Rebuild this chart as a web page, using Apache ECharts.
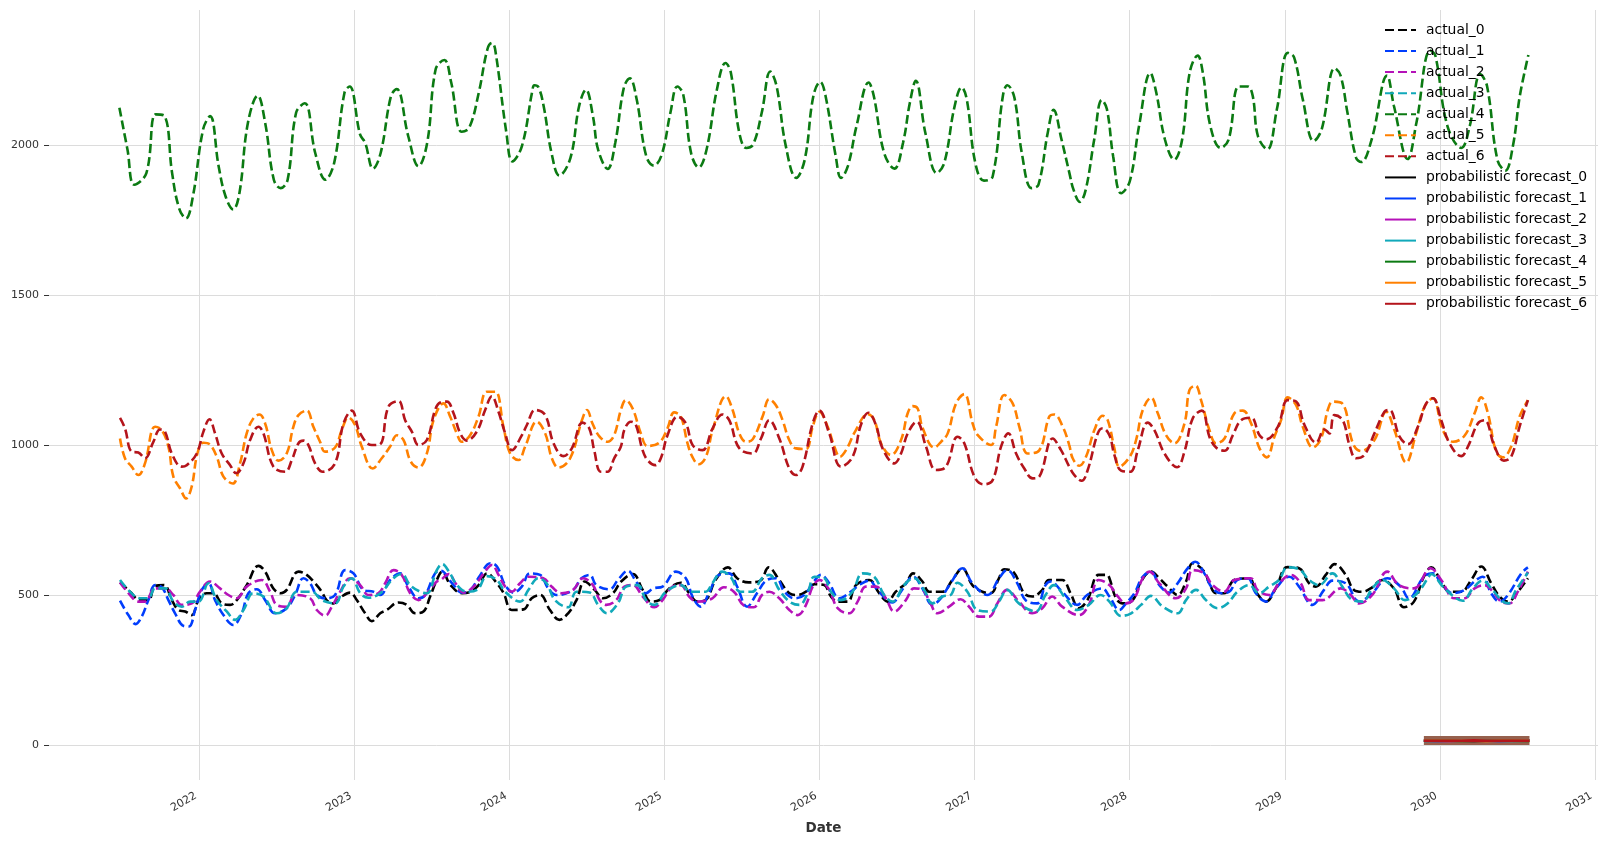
<![CDATA[<!DOCTYPE html>
<html>
<head>
<meta charset="utf-8">
<title>Forecast</title>
<script src="https://cdn.jsdelivr.net/npm/echarts@6/dist/echarts.min.js"></script>
<style>
  html, body { margin: 0; padding: 0; background: #fff; }
  #chart { width: 1609px; height: 845px; }
</style>
</head>
<body>
<div id="chart"></div>
<script>
// [decimal year, value] read off the picture
const actual0 = [[2021.488,543],[2021.553,512],[2021.617,484],[2021.671,484],[2021.714,531],[2021.772,534],[2021.822,484],[2021.865,451],[2021.908,446],[2021.951,434],[2021.994,484],[2022.047,507],[2022.09,507],[2022.144,473],[2022.198,468],[2022.241,484],[2022.305,534],[2022.381,598],[2022.424,579],[2022.477,523],[2022.525,507],[2022.563,518],[2022.639,579],[2022.692,568],[2022.746,540],[2022.789,512],[2022.82,484],[2022.865,473],[2022.918,496],[2022.972,509],[2023.015,484],[2023.069,440],[2023.112,414],[2023.166,440],[2023.208,451],[2023.284,476],[2023.338,468],[2023.391,440],[2023.445,446],[2023.488,496],[2023.531,551],[2023.566,579],[2023.62,534],[2023.694,507],[2023.748,512],[2023.801,534],[2023.855,573],[2023.919,540],[2023.962,507],[2024.015,451],[2024.09,453],[2024.143,490],[2024.197,501],[2024.261,451],[2024.321,418],[2024.378,440],[2024.432,484],[2024.485,546],[2024.549,518],[2024.603,490],[2024.667,507],[2024.72,546],[2024.795,571],[2024.859,518],[2024.912,479],[2024.966,484],[2025.03,523],[2025.105,542],[2025.158,507],[2025.212,479],[2025.265,484],[2025.329,551],[2025.408,593],[2025.468,557],[2025.543,543],[2025.618,549],[2025.671,593],[2025.74,551],[2025.805,507],[2025.858,501],[2025.912,512],[2025.966,537],[2026.03,534],[2026.073,496],[2026.116,479],[2026.18,479],[2026.234,534],[2026.32,551],[2026.384,507],[2026.438,479],[2026.491,512],[2026.556,540],[2026.603,573],[2026.663,546],[2026.706,512],[2026.792,512],[2026.856,551],[2026.921,590],[2026.985,534],[2027.049,512],[2027.103,507],[2027.157,557],[2027.189,587],[2027.253,576],[2027.318,507],[2027.372,496],[2027.436,518],[2027.479,551],[2027.564,551],[2027.618,507],[2027.672,457],[2027.727,484],[2027.8,568],[2027.854,568],[2027.869,557],[2027.912,490],[2027.955,473],[2028.019,484],[2028.073,546],[2028.137,579],[2028.191,557],[2028.245,529],[2028.309,501],[2028.363,546],[2028.406,607],[2028.481,579],[2028.513,540],[2028.556,507],[2028.609,507],[2028.674,551],[2028.77,557],[2028.813,512],[2028.878,479],[2028.942,523],[2029.017,594],[2029.092,590],[2029.157,540],[2029.2,529],[2029.264,568],[2029.322,604],[2029.393,568],[2029.446,518],[2029.5,512],[2029.554,523],[2029.629,551],[2029.704,523],[2029.768,460],[2029.833,479],[2029.897,562],[2029.944,593],[2030.009,546],[2030.062,512],[2030.138,512],[2030.202,551],[2030.267,596],[2030.331,540],[2030.385,496],[2030.439,479],[2030.503,512],[2030.568,557]];

const actual1 = [[2021.488,482],[2021.542,434],[2021.589,404],[2021.628,429],[2021.671,484],[2021.714,534],[2021.757,527],[2021.8,484],[2021.843,440],[2021.897,398],[2021.933,396],[2021.972,451],[2022.015,518],[2022.058,540],[2022.101,484],[2022.155,434],[2022.219,401],[2022.273,440],[2022.316,507],[2022.37,520],[2022.424,484],[2022.488,440],[2022.563,457],[2022.617,501],[2022.671,557],[2022.714,540],[2022.757,501],[2022.811,490],[2022.875,501],[2022.94,584],[2022.994,573],[2023.058,518],[2023.123,512],[2023.166,501],[2023.23,551],[2023.295,573],[2023.348,529],[2023.413,490],[2023.456,501],[2023.52,573],[2023.556,582],[2023.63,540],[2023.694,509],[2023.748,518],[2023.812,568],[2023.876,607],[2023.919,596],[2023.972,534],[2024.026,509],[2024.079,529],[2024.132,573],[2024.197,568],[2024.25,523],[2024.303,501],[2024.41,518],[2024.464,557],[2024.517,568],[2024.56,534],[2024.645,520],[2024.699,551],[2024.763,582],[2024.816,546],[2024.88,507],[2024.927,523],[2024.987,529],[2025.073,579],[2025.137,557],[2025.18,496],[2025.233,462],[2025.286,507],[2025.35,568],[2025.415,573],[2025.468,529],[2025.532,462],[2025.596,507],[2025.66,551],[2025.719,557],[2025.773,512],[2025.837,490],[2025.901,501],[2025.955,540],[2026.009,568],[2026.062,540],[2026.127,490],[2026.202,512],[2026.255,534],[2026.32,549],[2026.373,518],[2026.47,476],[2026.524,512],[2026.603,562],[2026.663,523],[2026.727,468],[2026.781,490],[2026.845,540],[2026.921,590],[2026.985,540],[2027.082,501],[2027.157,557],[2027.21,584],[2027.275,540],[2027.328,484],[2027.403,473],[2027.457,534],[2027.489,546],[2027.564,512],[2027.661,468],[2027.725,501],[2027.822,523],[2027.869,496],[2027.933,451],[2027.976,473],[2028.03,507],[2028.084,562],[2028.137,579],[2028.191,534],[2028.255,509],[2028.309,540],[2028.373,590],[2028.423,612],[2028.481,573],[2028.534,523],[2028.593,507],[2028.642,512],[2028.695,551],[2028.76,557],[2028.813,507],[2028.878,479],[2028.942,523],[2029.028,562],[2029.092,529],[2029.178,468],[2029.253,518],[2029.307,549],[2029.393,540],[2029.479,479],[2029.564,507],[2029.661,557],[2029.747,529],[2029.8,490],[2029.897,562],[2029.955,573],[2030.009,540],[2030.084,507],[2030.159,518],[2030.234,551],[2030.277,562],[2030.331,507],[2030.385,479],[2030.439,501],[2030.525,573],[2030.568,593]];

const actual2 = [[2021.488,543],[2021.553,501],[2021.606,479],[2021.649,479],[2021.714,523],[2021.778,523],[2021.832,501],[2021.886,468],[2021.951,473],[2022.004,512],[2022.069,546],[2022.133,523],[2022.187,501],[2022.241,490],[2022.305,529],[2022.402,551],[2022.456,512],[2022.499,468],[2022.563,462],[2022.617,501],[2022.714,490],[2022.757,451],[2022.811,432],[2022.854,462],[2022.908,512],[2022.972,557],[2023.037,534],[2023.09,501],[2023.155,507],[2023.198,540],[2023.252,584],[2023.305,568],[2023.359,507],[2023.413,484],[2023.467,507],[2023.531,546],[2023.556,551],[2023.609,571],[2023.652,540],[2023.705,509],[2023.769,529],[2023.833,573],[2023.887,601],[2023.929,568],[2023.972,529],[2024.015,512],[2024.068,540],[2024.122,562],[2024.218,557],[2024.271,529],[2024.335,507],[2024.41,518],[2024.474,557],[2024.538,534],[2024.581,484],[2024.624,468],[2024.688,484],[2024.741,529],[2024.795,534],[2024.859,496],[2024.934,460],[2024.987,484],[2025.051,529],[2025.105,534],[2025.158,496],[2025.212,479],[2025.308,490],[2025.382,527],[2025.447,512],[2025.511,466],[2025.575,460],[2025.628,501],[2025.676,512],[2025.74,490],[2025.805,451],[2025.858,434],[2025.912,468],[2025.955,529],[2025.998,551],[2026.062,518],[2026.116,457],[2026.191,440],[2026.245,479],[2026.298,529],[2026.363,529],[2026.427,490],[2026.481,446],[2026.556,484],[2026.609,523],[2026.663,518],[2026.706,484],[2026.76,440],[2026.835,462],[2026.91,487],[2026.964,462],[2027.028,429],[2027.092,429],[2027.146,473],[2027.21,518],[2027.285,479],[2027.371,440],[2027.436,457],[2027.5,496],[2027.564,462],[2027.672,434],[2027.736,468],[2027.8,551],[2027.869,534],[2027.923,496],[2027.976,473],[2028.03,490],[2028.084,557],[2028.127,579],[2028.191,540],[2028.298,490],[2028.363,523],[2028.406,584],[2028.481,573],[2028.534,534],[2028.609,512],[2028.674,551],[2028.781,557],[2028.824,518],[2028.899,501],[2028.963,540],[2029.039,568],[2029.103,540],[2029.157,484],[2029.243,484],[2029.361,523],[2029.425,501],[2029.479,473],[2029.564,501],[2029.661,579],[2029.736,534],[2029.833,523],[2029.94,590],[2030.009,551],[2030.095,490],[2030.159,490],[2030.224,523],[2030.288,534],[2030.342,512],[2030.396,479],[2030.449,473],[2030.503,512],[2030.568,579]];

const actual3 = [[2021.488,551],[2021.553,512],[2021.617,490],[2021.671,490],[2021.714,523],[2021.778,523],[2021.832,479],[2021.886,462],[2021.94,479],[2021.994,479],[2022.058,540],[2022.112,484],[2022.176,446],[2022.23,418],[2022.284,451],[2022.348,507],[2022.413,496],[2022.499,440],[2022.563,457],[2022.628,512],[2022.725,512],[2022.789,484],[2022.875,473],[2022.929,529],[2022.983,557],[2023.037,507],[2023.09,492],[2023.166,507],[2023.252,557],[2023.305,571],[2023.359,534],[2023.424,512],[2023.467,507],[2023.531,584],[2023.566,604],[2023.609,579],[2023.662,534],[2023.726,512],[2023.791,518],[2023.855,564],[2023.919,551],[2023.972,512],[2024.068,479],[2024.122,518],[2024.186,557],[2024.239,540],[2024.293,484],[2024.378,460],[2024.432,512],[2024.517,509],[2024.571,468],[2024.628,440],[2024.699,473],[2024.752,529],[2024.827,534],[2024.88,484],[2024.934,468],[2025.009,512],[2025.105,534],[2025.169,512],[2025.265,512],[2025.308,540],[2025.372,579],[2025.425,562],[2025.489,512],[2025.564,512],[2025.628,557],[2025.676,568],[2025.74,518],[2025.805,479],[2025.869,468],[2025.923,507],[2025.966,562],[2026.03,557],[2026.073,512],[2026.137,484],[2026.212,512],[2026.277,573],[2026.352,562],[2026.416,501],[2026.47,479],[2026.545,534],[2026.609,557],[2026.674,518],[2026.727,473],[2026.792,496],[2026.845,501],[2026.888,542],[2026.953,512],[2027.017,451],[2027.103,446],[2027.157,479],[2027.21,518],[2027.285,473],[2027.393,446],[2027.457,501],[2027.511,534],[2027.586,490],[2027.661,451],[2027.736,468],[2027.811,501],[2027.869,479],[2027.944,431],[2028.009,440],[2028.073,468],[2028.137,498],[2028.213,462],[2028.309,440],[2028.363,484],[2028.427,518],[2028.491,484],[2028.566,457],[2028.631,473],[2028.695,512],[2028.77,534],[2028.835,507],[2028.899,529],[2028.963,551],[2029.017,593],[2029.092,587],[2029.157,551],[2029.221,534],[2029.307,573],[2029.371,529],[2029.436,484],[2029.5,479],[2029.564,523],[2029.629,551],[2029.704,523],[2029.775,484],[2029.854,507],[2029.929,562],[2029.944,571],[2030.019,529],[2030.105,490],[2030.148,482],[2030.213,523],[2030.277,549],[2030.331,523],[2030.406,479],[2030.439,473],[2030.492,518],[2030.568,576]];

const actual4 = [[2021.484,2126],[2021.536,1987],[2021.58,1869],[2021.658,1908],[2021.718,2104],[2021.776,2098],[2021.824,1908],[2021.869,1791],[2021.913,1757],[2021.958,1830],[2022.024,2054],[2022.069,2098],[2022.124,1931],[2022.169,1830],[2022.218,1787],[2022.258,1841],[2022.313,2076],[2022.376,2166],[2022.424,2076],[2022.48,1886],[2022.524,1858],[2022.569,1886],[2022.624,2110],[2022.68,2141],[2022.747,1975],[2022.813,1886],[2022.869,1942],[2022.936,2177],[2022.969,2197],[2023.036,2037],[2023.069,2009],[2023.12,1923],[2023.169,1975],[2023.236,2166],[2023.273,2188],[2023.347,2031],[2023.413,1931],[2023.469,2009],[2023.524,2255],[2023.58,2285],[2023.624,2210],[2023.691,2046],[2023.74,2059],[2023.802,2177],[2023.858,2322],[2023.887,2342],[2023.907,2322],[2023.98,2042],[2024.018,1947],[2024.08,1998],[2024.147,2182],[2024.16,2201],[2024.187,2194],[2024.22,2132],[2024.271,1975],[2024.322,1900],[2024.393,1959],[2024.449,2132],[2024.493,2186],[2024.538,2098],[2024.571,1987],[2024.633,1922],[2024.682,2009],[2024.738,2194],[2024.776,2224],[2024.82,2154],[2024.882,1964],[2024.931,1933],[2024.982,1970],[2025.038,2110],[2025.082,2197],[2025.12,2171],[2025.171,1975],[2025.22,1927],[2025.271,1987],[2025.338,2188],[2025.393,2275],[2025.427,2244],[2025.482,2042],[2025.527,1992],[2025.571,2003],[2025.627,2110],[2025.682,2247],[2025.722,2199],[2025.782,1998],[2025.849,1892],[2025.904,1953],[2025.96,2166],[2026.004,2212],[2026.038,2166],[2026.104,1964],[2026.138,1892],[2026.182,1931],[2026.238,2065],[2026.316,2210],[2026.349,2166],[2026.416,1975],[2026.482,1923],[2026.538,2009],[2026.582,2143],[2026.62,2216],[2026.682,2042],[2026.756,1908],[2026.804,1942],[2026.871,2132],[2026.916,2194],[2026.949,2154],[2027.004,1942],[2027.06,1883],[2027.116,1897],[2027.182,2166],[2027.211,2201],[2027.256,2160],[2027.304,1975],[2027.367,1858],[2027.411,1869],[2027.471,2042],[2027.509,2119],[2027.56,2020],[2027.611,1908],[2027.638,1852],[2027.678,1812],[2027.716,1852],[2027.771,2020],[2027.82,2152],[2027.853,2121],[2027.893,1964],[2027.944,1841],[2028.0,1880],[2028.06,2065],[2028.133,2242],[2028.171,2177],[2028.227,2020],[2028.287,1953],[2028.338,2020],[2028.387,2244],[2028.438,2300],[2028.471,2244],[2028.52,2065],[2028.587,1992],[2028.638,2020],[2028.704,2197],[2028.76,2197],[2028.793,2166],[2028.827,2031],[2028.887,1987],[2028.949,2121],[2029.02,2309],[2029.06,2294],[2029.116,2154],[2029.187,2015],[2029.238,2054],[2029.322,2258],[2029.36,2233],[2029.404,2110],[2029.46,1959],[2029.493,1945],[2029.56,2020],[2029.66,2233],[2029.704,2132],[2029.793,1955],[2029.849,2076],[2029.938,2317],[2029.971,2300],[2030.049,2065],[2030.138,1992],[2030.193,2065],[2030.26,2238],[2030.304,2199],[2030.371,1953],[2030.422,1916],[2030.471,1998],[2030.516,2166],[2030.571,2302]];

const actual5 = [[2021.488,1023],[2021.52,957],[2021.563,929],[2021.606,901],[2021.649,940],[2021.714,1062],[2021.757,1051],[2021.8,996],[2021.832,896],[2021.875,857],[2021.914,823],[2021.95,862],[2021.987,973],[2022.026,1009],[2022.065,1004],[2022.112,962],[2022.155,896],[2022.215,873],[2022.262,940],[2022.305,1040],[2022.348,1090],[2022.387,1103],[2022.424,1073],[2022.467,984],[2022.51,949],[2022.563,973],[2022.606,1062],[2022.639,1101],[2022.692,1116],[2022.735,1062],[2022.778,1012],[2022.81,979],[2022.875,993],[2022.918,1051],[2022.961,1093],[2023.004,1068],[2023.047,996],[2023.118,923],[2023.176,957],[2023.23,996],[2023.273,1034],[2023.316,1018],[2023.363,946],[2023.413,926],[2023.467,973],[2023.51,1084],[2023.574,1140],[2023.617,1096],[2023.66,1040],[2023.692,1012],[2023.746,1034],[2023.8,1096],[2023.854,1179],[2023.908,1179],[2023.961,1062],[2024.004,973],[2024.058,951],[2024.101,996],[2024.176,1079],[2024.23,1040],[2024.273,957],[2024.316,926],[2024.391,957],[2024.467,1084],[2024.5,1118],[2024.535,1073],[2024.578,1031],[2024.632,1012],[2024.675,1034],[2024.718,1118],[2024.75,1151],[2024.794,1123],[2024.847,1040],[2024.89,998],[2024.966,1009],[2025.019,1057],[2025.062,1110],[2025.105,1096],[2025.148,1007],[2025.181,960],[2025.219,937],[2025.267,962],[2025.31,1051],[2025.396,1164],[2025.439,1118],[2025.482,1040],[2025.525,1012],[2025.568,1020],[2025.632,1096],[2025.675,1154],[2025.718,1134],[2025.761,1084],[2025.804,1018],[2025.847,990],[2025.912,988],[2025.955,1062],[2025.998,1112],[2026.052,1062],[2026.095,996],[2026.131,962],[2026.17,984],[2026.234,1051],[2026.31,1104],[2026.353,1084],[2026.396,1007],[2026.46,968],[2026.525,1018],[2026.568,1107],[2026.6,1131],[2026.632,1123],[2026.665,1057],[2026.74,993],[2026.783,1012],[2026.826,1040],[2026.88,1140],[2026.933,1171],[2026.987,1073],[2027.02,1034],[2027.105,1001],[2027.138,1062],[2027.191,1168],[2027.245,1140],[2027.288,1062],[2027.342,973],[2027.417,984],[2027.481,1096],[2027.514,1103],[2027.568,1062],[2027.61,1001],[2027.632,957],[2027.675,932],[2027.718,962],[2027.772,1051],[2027.826,1099],[2027.858,1084],[2027.901,990],[2027.933,929],[2028.0,962],[2028.041,1018],[2028.084,1118],[2028.138,1159],[2028.181,1107],[2028.234,1034],[2028.288,1007],[2028.353,1073],[2028.385,1184],[2028.424,1199],[2028.46,1151],[2028.514,1051],[2028.557,1007],[2028.611,1023],[2028.675,1107],[2028.729,1116],[2028.783,1073],[2028.837,990],[2028.884,960],[2028.933,1029],[2028.976,1084],[2029.019,1160],[2029.073,1134],[2029.116,1062],[2029.181,993],[2029.234,1023],[2029.277,1118],[2029.31,1146],[2029.374,1138],[2029.439,1007],[2029.492,981],[2029.578,1018],[2029.654,1112],[2029.707,1051],[2029.783,943],[2029.847,1040],[2029.901,1129],[2029.955,1157],[2030.019,1051],[2030.084,1012],[2030.159,1032],[2030.224,1107],[2030.267,1160],[2030.31,1107],[2030.363,979],[2030.406,960],[2030.46,996],[2030.514,1096],[2030.568,1151]];

const actual6 = [[2021.488,1092],[2021.52,1057],[2021.563,979],[2021.606,976],[2021.649,957],[2021.703,1012],[2021.746,1053],[2021.778,1046],[2021.822,973],[2021.886,929],[2021.918,934],[2021.983,973],[2022.026,1046],[2022.065,1087],[2022.101,1040],[2022.144,973],[2022.198,934],[2022.237,907],[2022.284,940],[2022.327,1018],[2022.381,1062],[2022.413,1040],[2022.477,929],[2022.553,912],[2022.596,951],[2022.639,1007],[2022.671,1016],[2022.703,1001],[2022.746,940],[2022.796,912],[2022.875,940],[2022.929,1073],[2022.983,1116],[2023.037,1040],[2023.112,1001],[2023.166,1004],[2023.219,1129],[2023.284,1148],[2023.327,1084],[2023.37,1046],[2023.413,1001],[2023.467,1018],[2023.52,1118],[2023.553,1143],[2023.596,1146],[2023.639,1107],[2023.682,1040],[2023.725,1016],[2023.789,1046],[2023.843,1118],[2023.886,1164],[2023.929,1112],[2023.972,1040],[2024.015,984],[2024.08,1034],[2024.112,1068],[2024.166,1118],[2024.23,1101],[2024.284,1007],[2024.348,964],[2024.402,990],[2024.471,1076],[2024.514,1057],[2024.546,984],[2024.589,912],[2024.632,912],[2024.675,957],[2024.718,996],[2024.74,1051],[2024.783,1079],[2024.815,1068],[2024.858,984],[2024.89,951],[2024.94,934],[2024.976,957],[2025.019,1034],[2025.084,1096],[2025.138,1073],[2025.181,1001],[2025.245,984],[2025.31,1057],[2025.374,1103],[2025.417,1084],[2025.482,990],[2025.568,973],[2025.622,1023],[2025.675,1084],[2025.74,1023],[2025.804,923],[2025.847,901],[2025.89,929],[2025.955,1073],[2025.998,1116],[2026.062,1040],[2026.138,929],[2026.213,962],[2026.266,1068],[2026.314,1109],[2026.363,1068],[2026.406,990],[2026.482,940],[2026.525,973],[2026.568,1040],[2026.626,1079],[2026.686,996],[2026.75,918],[2026.815,929],[2026.89,1029],[2026.933,1007],[2026.998,896],[2027.056,870],[2027.116,884],[2027.17,996],[2027.217,1040],[2027.267,973],[2027.32,923],[2027.374,890],[2027.417,896],[2027.503,1023],[2027.557,984],[2027.61,929],[2027.643,901],[2027.69,882],[2027.729,918],[2027.794,1040],[2027.826,1057],[2027.869,1034],[2027.901,968],[2027.944,916],[2028.004,912],[2028.052,984],[2028.116,1076],[2028.159,1051],[2028.224,973],[2028.305,927],[2028.353,979],[2028.406,1090],[2028.465,1116],[2028.514,1029],[2028.557,993],[2028.611,982],[2028.665,1034],[2028.718,1084],[2028.783,1092],[2028.837,1034],[2028.88,1020],[2028.955,1062],[2029.019,1151],[2029.073,1146],[2029.127,1068],[2029.202,1009],[2029.256,1053],[2029.288,1040],[2029.32,1101],[2029.374,1084],[2029.417,1001],[2029.46,957],[2029.514,968],[2029.578,1040],[2029.643,1112],[2029.675,1118],[2029.74,1029],[2029.794,1004],[2029.858,1062],[2029.912,1140],[2029.955,1157],[2030.009,1084],[2030.062,1007],[2030.138,964],[2030.181,996],[2030.245,1073],[2030.288,1084],[2030.353,996],[2030.413,949],[2030.46,962],[2030.514,1062],[2030.568,1151]];

const actualSeries = [actual0, actual1, actual2, actual3, actual4, actual5, actual6];

// forecast stretch, all seven lines sit on top of each other near 15
const forecastYears = [2029.897, 2029.98, 2030.06, 2030.14, 2030.22, 2030.3, 2030.38, 2030.46, 2030.578];
const forecast0 = [15, 15, 15, 15, 14, 15, 15, 15, 15];
const forecast1 = [15, 14, 15, 15, 15, 15, 14, 15, 15];
const forecast2 = [15, 15, 14, 15, 15, 16, 15, 15, 15];
const forecast3 = [14, 15, 15, 15, 15, 15, 15, 14, 15];
const forecast4 = [15, 15, 15, 14, 15, 15, 15, 15, 14];
const forecast5 = [15, 15, 15, 15, 15, 14, 15, 15, 15];
const forecast6 = [15, 15, 15, 15, 16, 15, 15, 15, 15];
const forecastSeries = [forecast0, forecast1, forecast2, forecast3, forecast4, forecast5, forecast6];
const bandLow = 1;
const bandHigh = [31, 31, 31, 31, 31, 31, 31, 31, 31];

const xTicks = [2022, 2023, 2024, 2025, 2026, 2027, 2028, 2029, 2030, 2031];
const yTicks = [0, 500, 1000, 1500, 2000];
const colors = ["#000000", "#003DFD", "#B512B8", "#11A9BA", "#0B7A12", "#FF8000", "#B4141B"];

let chart = echarts.init(document.getElementById("chart"));

let series = [];
actualSeries.forEach(function (data, i) {
  series.push({
    name: "actual_" + i,
    type: "line",
    data: data,
    smooth: 0.4,
    symbol: "none",
    itemStyle: { color: colors[i] },
    lineStyle: { color: colors[i], width: 2.6, type: [9, 4] }
  });
});
// confidence band, filled down to bandLow
series.push({
  name: "band",
  type: "line",
  data: forecastYears.map((y, i) => [y, bandHigh[i]]),
  symbol: "none",
  lineStyle: { width: 0 },
  areaStyle: { color: "#96614E", opacity: 1, origin: bandLow }
});
forecastSeries.forEach(function (values, i) {
  series.push({
    name: "probabilistic forecast_" + i,
    type: "line",
    data: forecastYears.map((y, k) => [y, values[k]]),
    symbol: "none",
    itemStyle: { color: colors[i] },
    lineStyle: { color: colors[i], width: 2.6 }
  });
});

let option = {
  animation: false,
  backgroundColor: "#fff",
  textStyle: { fontFamily: "DejaVu Sans" },
  legend: {
    right: 17,
    top: 18,
    orient: "vertical",
    align: "left",
    itemWidth: 31,
    itemHeight: 10,
    itemGap: 7.06,
    itemStyle: { opacity: 0 }, // line only, no dot on the key
    textStyle: { color: "#000", fontSize: 13.9, fontFamily: "DejaVu Sans", padding: [0, 0, 0, 5] },
    data: actualSeries.map((d, i) => "actual_" + i).concat(forecastSeries.map((d, i) => "probabilistic forecast_" + i))
  },
  grid: { left: 49, right: 11, top: 10, bottom: 65 },
  xAxis: {
    type: "value",
    min: 2021.03,
    max: 2031.02,
    name: "Date",
    nameLocation: "middle",
    nameGap: 41,
    nameTextStyle: { color: "#333", fontWeight: "bold", fontSize: 13.5 },
    axisLine: { show: false },
    axisTick: { show: false, customValues: xTicks },
    splitLine: { show: true, lineStyle: { color: "#dcdcdc", width: 1 } },
    axisLabel: {
      customValues: xTicks,
      rotate: 30,
      color: "#333",
      fontSize: 11,
      margin: 13,
      padding: [0, 4, 0, 0],
      formatter: (v) => String(v)
    }
  },
  yAxis: {
    type: "value",
    min: -116,
    max: 2452,
    axisLine: { show: false },
    axisTick: { show: true, length: 5, customValues: yTicks, lineStyle: { color: "#333" } },
    splitLine: { show: true, lineStyle: { color: "#dcdcdc", width: 1 } },
    axisLabel: {
      customValues: yTicks,
      color: "#333",
      fontSize: 11,
      margin: 10,
      formatter: (v) => String(v)
    }
  },
  series: series
};

chart.setOption(option);
</script>
</body>
</html>
]]>
